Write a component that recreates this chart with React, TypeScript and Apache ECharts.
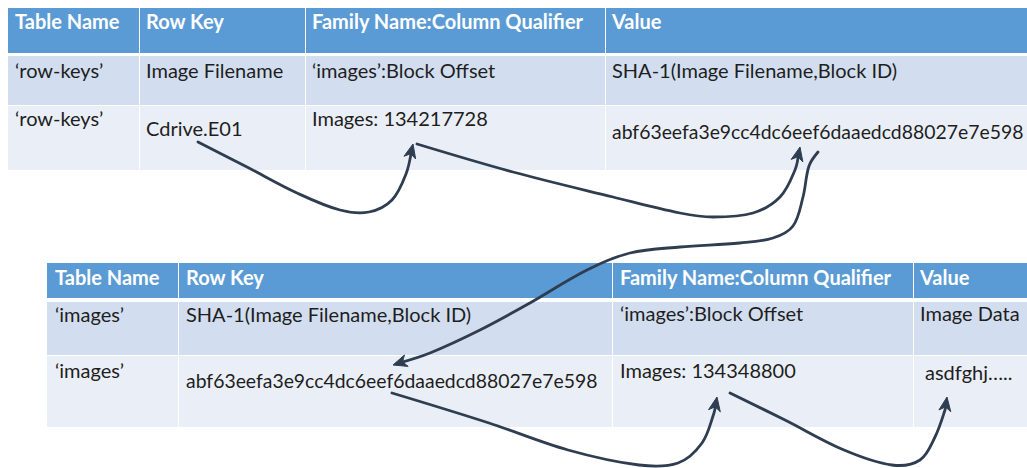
import React, { useEffect, useRef } from "react";
import * as echarts from "echarts";

// ---------- DATA ----------
const TOP_HEADERS = ["Table Name", "Row Key", "Family Name:Column Qualifier", "Value"];
const TOP_ROW_1 = ["‘row-keys’", "Image Filename", "‘images’:Block Offset", "SHA-1(Image Filename,Block ID)"];
const TOP_ROW_2 = ["‘row-keys’", "Cdrive.E01", "Images: 134217728", "abf63eefa3e9cc4dc6eef6daaedcd88027e7e598"];

const BOTTOM_HEADERS = ["Table Name", "Row Key", "Family Name:Column Qualifier", "Value"];
const BOTTOM_ROW_1 = ["‘images’", "SHA-1(Image Filename,Block ID)", "‘images’:Block Offset", "Image Data"];
const BOTTOM_ROW_2 = ["‘images’", "abf63eefa3e9cc4dc6eef6daaedcd88027e7e598", "Images: 134348800", "asdfghj….."];

// ---------- LAYOUT ----------
const W = 1027;
const H = 468;
const FONT = "Lato, 'Open Sans', sans-serif";
const FONT_SIZE = 20;
const HASH_FONT_SIZE = 19.4;

const TOP_LAYOUT = {
  cols: [8, 139, 305, 605, 1032],
  bands: [[8, 53], [56, 105], [106, 170]],
  textX: [[15, 146, 312, 612], [15, 146, 312, 612], [15, 146, 312, 612]],
  textY: [[21, 21, 21, 21], [70, 70, 70, 70], [118, 128, 118, 131]],
  textSize: [[0, 0, 0, 0], [0, 0, 0, 0], [0, 0, 0, HASH_FONT_SIZE]],
};
const BOTTOM_LAYOUT = {
  cols: [47, 178, 612, 913, 1032],
  bands: [[263, 298], [302, 355], [356, 427]],
  textX: [[55, 186, 620, 920], [55, 186, 620, 920], [55, 186, 620, 925]],
  textY: [[277, 277, 277, 277], [314, 314, 313, 313], [370, 380, 370, 372]],
  textSize: [[0, 0, 0, 0], [0, 0, 0, 0], [0, HASH_FONT_SIZE, 0, 0]],
};

const ARROWS: number[][][] = [
  [[198, 142], [247, 167], [297, 193], [340, 210], [369, 212], [392, 200], [406, 174], [413, 144]],
  [[417, 144], [513, 172], [613, 197], [680, 213], [713, 217], [753, 213], [780, 197], [795, 170], [800, 147]],
  [[818, 152], [809, 166], [803, 197], [793, 226], [773, 238], [740, 243], [680, 247], [630, 253], [587, 270], [530, 303], [480, 330], [430, 353], [393, 365]],
  [[392, 393], [489, 423], [568, 450], [639, 465], [678, 463], [702, 443], [714, 413], [717, 397]],
  [[730, 393], [785, 420], [844, 450], [892, 465], [920, 460], [935, 437], [945, 410], [947, 397]],
];

const HEADER_COLOR = "#5B9BD5";
const BAND1_COLOR = "#D2DEEF";
const BAND2_COLOR = "#EAEFF7";
const ARROW_COLOR = "#2F3D51";
const TEXT_COLOR = "#1E1E1E";

function buildTable(headers: string[], rows: string[][], layout: any) {
  const els: any[] = [];
  const all = [headers, ...rows];
  const fills = [HEADER_COLOR, BAND1_COLOR, BAND2_COLOR];
  all.forEach((row, r) => {
    const [y0, y1] = layout.bands[r];
    for (let c = 0; c < 4; c++) {
      const x0 = layout.cols[c] + (c > 0 ? 1 : 0);
      const x1 = layout.cols[c + 1];
      els.push({
        type: "rect",
        shape: { x: x0, y: y0, width: x1 - x0, height: y1 - y0 },
        style: { fill: fills[r] },
        z: 1,
      });
    }
    row.forEach((t, c) => {
      els.push({
        type: "text",
        x: layout.textX[r][c],
        y: layout.textY[r][c],
        z: 2,
        style: {
          text: t,
          fill: r === 0 ? "#FFFFFF" : TEXT_COLOR,
          fontFamily: FONT,
          fontSize: layout.textSize[r][c] || FONT_SIZE,
          fontWeight: r === 0 ? "bold" : "normal",
          verticalAlign: "middle",
          align: "left",
        },
      });
    });
  });
  return els;
}

function buildArrow(pts: number[][]) {
  const els: any[] = [];
  const n = pts.length;
  const tip = pts[n - 1];
  const prev = pts[n - 2];
  const dx = tip[0] - prev[0];
  const dy = tip[1] - prev[1];
  const len = Math.hypot(dx, dy) || 1;
  const ux = dx / len;
  const uy = dy / len;
  const px = -uy;
  const py = ux;
  const L = 14;
  const Wd = 6;
  const notch = 10;
  const back = [tip[0] - ux * L, tip[1] - uy * L];
  const mid = [tip[0] - ux * notch, tip[1] - uy * notch];
  const linePts = pts.slice(0, n - 1).concat([[tip[0] - ux * 6, tip[1] - uy * 6]]);
  els.push({
    type: "polyline",
    z: 5,
    shape: { points: linePts, smooth: 0.35 },
    style: { stroke: ARROW_COLOR, lineWidth: 2.8, fill: "none", lineCap: "round" },
  });
  els.push({
    type: "polygon",
    z: 6,
    shape: {
      points: [
        tip,
        [back[0] + px * Wd, back[1] + py * Wd],
        mid,
        [back[0] - px * Wd, back[1] - py * Wd],
      ],
    },
    style: { fill: ARROW_COLOR, stroke: ARROW_COLOR, lineWidth: 1 },
  });
  return els;
}

export default function App() {
  const ref = useRef<HTMLDivElement>(null);
  useEffect(() => {
    if (!ref.current) return;
    const chart = echarts.init(ref.current, undefined, { renderer: "svg" });
    const elements = [
      ...buildTable(TOP_HEADERS, [TOP_ROW_1, TOP_ROW_2], TOP_LAYOUT),
      ...buildTable(BOTTOM_HEADERS, [BOTTOM_ROW_1, BOTTOM_ROW_2], BOTTOM_LAYOUT),
      ...ARROWS.flatMap((a) => buildArrow(a)),
    ];
    chart.setOption({
      animation: false,
      backgroundColor: "#FFFFFF",
      graphic: { elements },
    });
    return () => chart.dispose();
  }, []);
  return (
    <div
      ref={ref}
      style={{ position: "absolute", left: 0, top: 0, width: W, height: H }}
    />
  );
}
